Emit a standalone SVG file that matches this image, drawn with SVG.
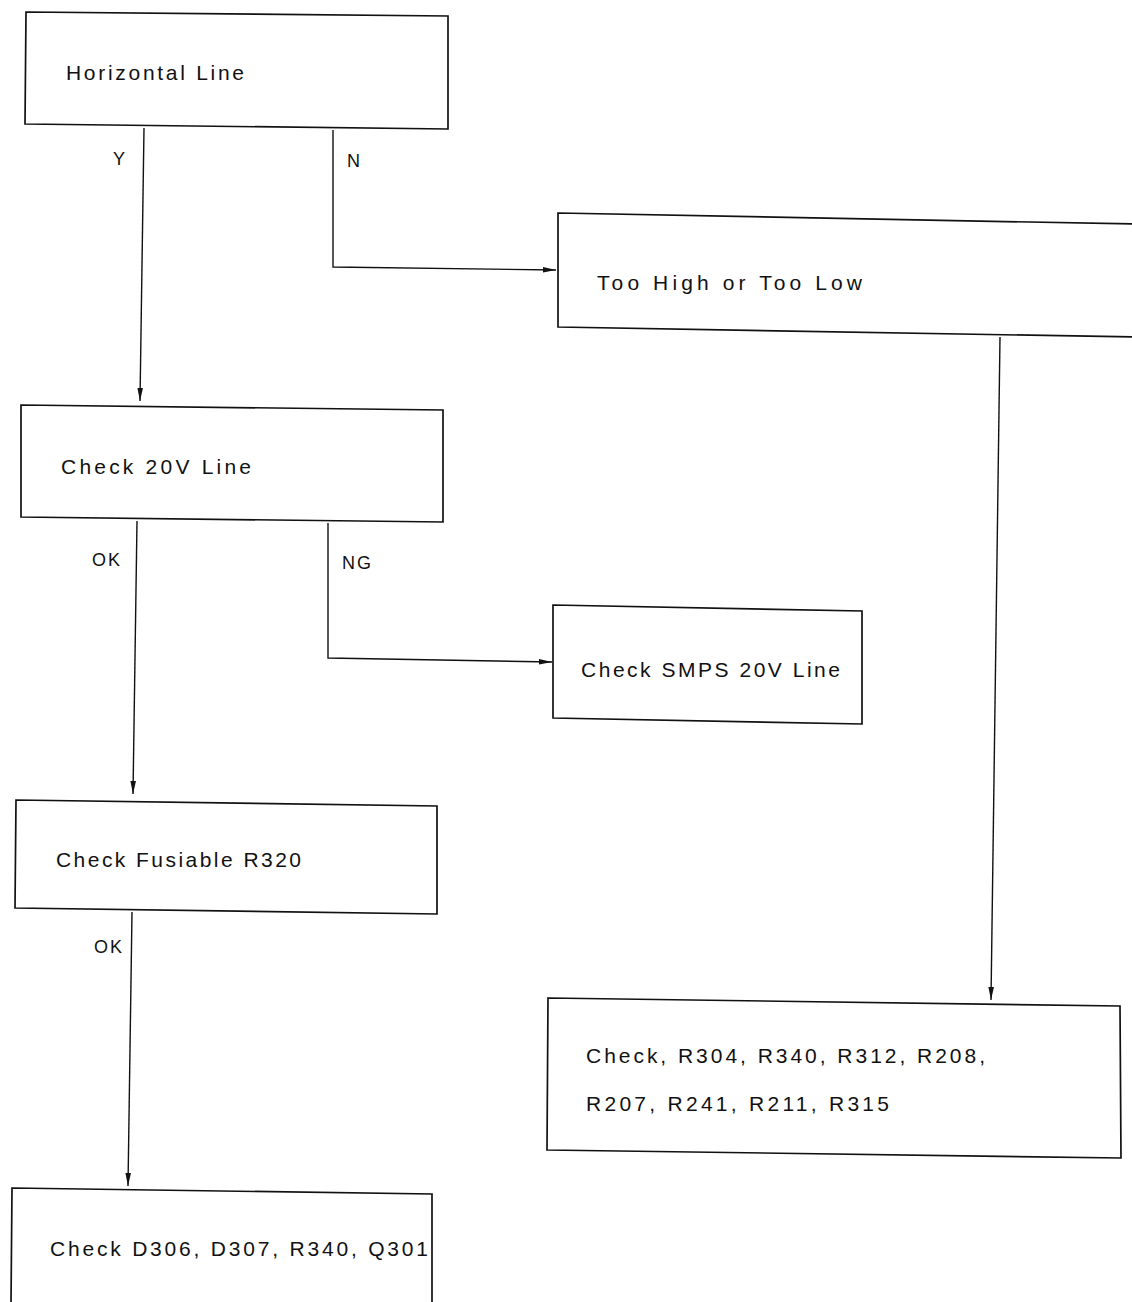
<svg xmlns="http://www.w3.org/2000/svg" width="1132" height="1302" viewBox="0 0 1132 1302">
<defs>
<marker id="arr" markerWidth="14" markerHeight="8" refX="13" refY="4" orient="auto" markerUnits="userSpaceOnUse">
<path d="M0,1.2 L13,4 L0,6.8 Z" fill="#111"/>
</marker>
<style>
.box{fill:#fff;stroke:#111;stroke-width:1.7}
.t{font-family:"Liberation Sans",Arial,sans-serif;font-size:21px;fill:#111}
.l{font-family:"Liberation Sans",Arial,sans-serif;font-size:18px;fill:#111;letter-spacing:2px}
.c{fill:none;stroke:#111;stroke-width:1.4}
</style>
</defs>
<rect width="1132" height="1302" fill="#fff"/>
<g id="connectors">
<polyline class="c" points="144,128 140,401" marker-end="url(#arr)"/>
<polyline class="c" points="333,130 333,267 556,270" marker-end="url(#arr)"/>
<polyline class="c" points="1000,337 991,1000" marker-end="url(#arr)"/>
<polyline class="c" points="137,521 133,794" marker-end="url(#arr)"/>
<polyline class="c" points="328,523 328,658 552,662" marker-end="url(#arr)"/>
<polyline class="c" points="132,912 128,1186" marker-end="url(#arr)"/>
<text class="l" x="113" y="165">Y</text>
<text class="l" x="347" y="167">N</text>
<text class="l" x="92" y="566">OK</text>
<text class="l" x="342" y="569">NG</text>
<text class="l" x="94" y="953">OK</text>
</g>
<g id="node-horizontal-line">
<polygon class="box" points="26,12 448,16 448,129 25,124"/>
<text class="t" x="66" y="80" textLength="178" lengthAdjust="spacing">Horizontal  Line</text>
</g>
<g id="node-too-high-low">
<polygon class="box" points="558,213 1134,224 1134,337 558,327"/>
<text class="t" x="597" y="290" textLength="265" lengthAdjust="spacing">Too  High  or  Too  Low</text>
</g>
<g id="node-check-20v">
<polygon class="box" points="21,405 443,410 443,522 21,517"/>
<text class="t" x="61" y="474" textLength="190" lengthAdjust="spacing">Check  20V  Line</text>
</g>
<g id="node-smps">
<polygon class="box" points="553,605 862,611 862,724 553,718"/>
<text class="t" x="581" y="677" textLength="259" lengthAdjust="spacing">Check  SMPS  20V  Line</text>
</g>
<g id="node-fusiable">
<polygon class="box" points="16,800 437,806 437,914 15,908"/>
<text class="t" x="56" y="867" textLength="245" lengthAdjust="spacing">Check  Fusiable  R320</text>
</g>
<g id="node-d306">
<polygon class="box" points="12,1188 432,1194 432,1304 11,1304"/>
<text class="t" x="50" y="1256" textLength="378" lengthAdjust="spacing">Check  D306,  D307,  R340,  Q301</text>
</g>
<g id="node-r304">
<polygon class="box" points="548,998 1120,1006 1121,1158 547,1150"/>
<text class="t" x="586" y="1063" textLength="399" lengthAdjust="spacing">Check,  R304,  R340,  R312,  R208,</text>
<text class="t" x="586" y="1111" textLength="303" lengthAdjust="spacing">R207,  R241,  R211,  R315</text>
</g>
</svg>
